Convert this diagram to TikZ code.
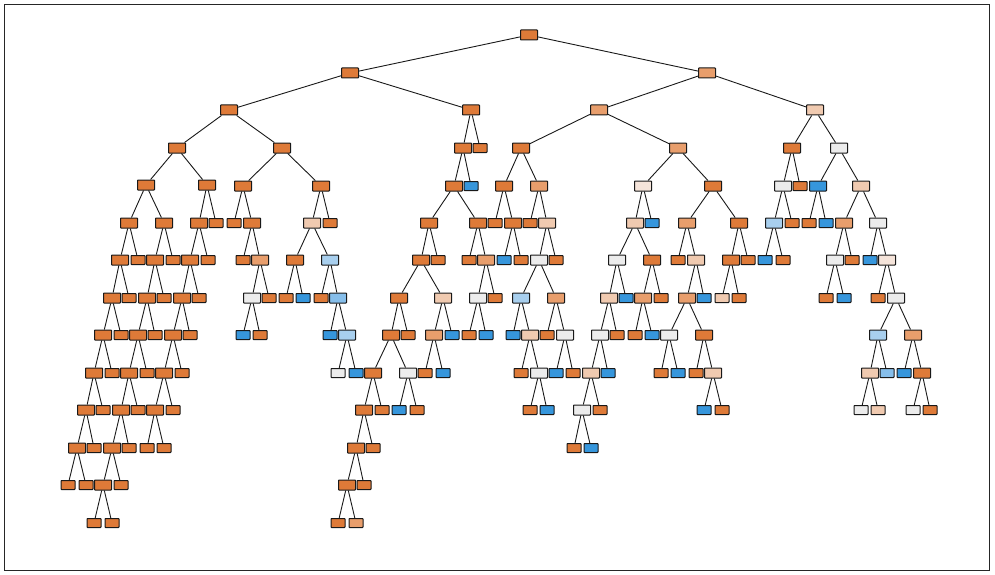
\documentclass[tikz,border=0pt]{standalone}
\usepackage{tikz}

\definecolor{cO}{RGB}{222,122,56}
\definecolor{co}{RGB}{232,158,108}
\definecolor{ct}{RGB}{240,202,176}
\definecolor{cL}{RGB}{245,228,218}
\definecolor{cW}{RGB}{236,236,236}
\definecolor{cb}{RGB}{168,207,238}
\definecolor{cm}{RGB}{134,190,234}
\definecolor{cB}{RGB}{54,150,220}

\begin{document}
\begin{tikzpicture}[
    x=1pt, y=-1pt,
    split/.style={draw=black!90, line width=1pt, rounded corners=0.6pt, minimum width=17pt, minimum height=10pt, inner sep=0pt},
    leaf/.style={split, minimum width=14pt, minimum height=9pt},
    link/.style={line width=0.9pt, black!90}
]
\useasboundingbox (0,0) rectangle (995,575);
\draw[line width=1pt, black!85] (4.5,4.5) rectangle (989.5,570.5);

% split nodes
\foreach \i/\x/\y/\c in {
    0/529/35/cO, 1/350/73/cO, 2/229/110/cO, 3/177/148/cO, 4/146/185/cO, 5/129/223/cO,
    6/120/260/cO, 7/112/298/cO, 8/103/335/cO, 9/94/373/cO, 10/86/410/cO, 11/77/448/cO,
    20/164/223/cO, 21/155/260/cO, 22/147/298/cO, 23/138/335/cO, 24/129/373/cO,
    25/121/410/cO, 26/112/448/cO, 27/103/485/cO,
    37/207/185/cO, 38/199/223/cO, 39/190/260/cO, 40/182/298/cO, 41/173/335/cO,
    42/164/373/cO, 43/155/410/cO,
    52/282/148/cO, 53/243/186/cO, 55/252/223/cO, 57/260/260/co, 58/252/298/cW,
    62/321/186/cO, 63/312/223/ct, 64/295/260/cO, 67/330/260/cb, 69/338/298/cm, 71/347/335/cb,
    75/471/110/cO, 76/463/148/cO, 77/454/186/cO, 78/429/223/cO, 79/421/260/cO,
    80/399/298/cO, 81/391/335/cO, 82/373/373/cO, 83/364/410/cO, 84/356/448/cO, 85/347/485/cO,
    91/408/373/cW, 95/443/298/ct, 96/434/335/co,
    101/478/223/cO, 103/486/260/co, 104/478/298/cW,
    110/707/73/co, 111/599/110/co, 112/521/148/cO, 113/504/186/cO, 115/513/223/cO,
    118/539/186/co, 120/547/223/ct, 121/539/260/cW, 122/521/298/cb, 124/530/335/ct,
    126/539/373/cW, 129/556/298/co, 131/565/335/cW,
    135/678/148/co, 136/643/186/cL, 137/635/223/ct, 138/617/260/cW, 139/609/298/ct,
    140/600/335/cW, 141/591/373/ct, 142/582/410/cW,
    149/652/260/cO, 150/643/298/co,
    155/713/186/cO, 156/687/223/co, 158/696/260/ct, 159/687/298/co, 160/669/335/cW,
    163/704/335/cO, 165/713/373/ct,
    169/739/223/cO, 170/731/260/cO,
    174/815/110/ct, 175/792/148/cO, 176/783/186/cW, 177/774/223/cb,
    182/839/148/cW, 183/818/186/cB, 186/861/186/ct, 187/844/223/co, 188/835/260/cW,
    192/878/223/cW, 194/887/260/cL, 196/896/298/cW, 197/878/335/cb, 198/870/373/ct,
    202/913/335/co, 204/922/373/cO}
    \node[split, fill=\c] (n\i) at (\x,\y) {};

% leaves
\foreach \i/\x/\y/\c in {
    12/68/485/cO, 13/86/485/cO, 14/94/448/cO, 15/103/410/cO, 16/112/373/cO,
    17/121/335/cO, 18/129/298/cO, 19/138/260/cO,
    28/94/523/cO, 29/112/523/cO, 30/121/485/cO, 31/129/448/cO, 32/138/410/cO,
    33/147/373/cO, 34/155/335/cO, 35/164/298/cO, 36/173/260/cO,
    44/147/448/cO, 45/164/448/cO, 46/173/410/cO, 47/182/373/cO, 48/190/335/cO,
    49/199/298/cO, 50/208/260/cO, 51/216/223/cO,
    54/234/223/cO, 56/243/260/cO, 59/243/335/cB, 60/260/335/cO, 61/269/298/cO,
    65/286/298/cO, 66/303/298/cB, 68/321/298/cO, 70/330/335/cB, 72/338/373/cW,
    73/356/373/cB, 74/330/223/cO,
    86/338/523/cO, 87/356/523/co, 88/364/485/cO, 89/373/448/cO, 90/382/410/cO,
    92/399/410/cB, 93/417/410/cO, 94/408/335/cO,
    97/425/373/cO, 98/443/373/cB, 99/452/335/cB, 100/438/260/cO, 102/469/260/cO,
    105/469/335/cO, 106/486/335/cB, 107/495/298/cO, 108/471/186/cB, 109/480/148/cO,
    114/495/223/cO, 116/504/260/cB, 117/521/260/cO, 119/530/223/cO, 123/513/335/cB,
    125/521/373/cO, 127/530/410/cO, 128/547/410/cB, 130/547/335/cO, 132/556/373/cB,
    133/573/373/cO, 134/556/260/cO,
    143/574/448/cO, 144/591/448/cB, 145/600/410/cO, 146/608/373/cB, 147/617/335/cO,
    148/626/298/cB, 151/635/335/cO, 152/652/335/cB, 153/661/298/cO, 154/652/223/cB,
    157/678/260/cO, 161/661/373/cO, 162/678/373/cB, 164/696/373/cO, 166/704/410/cB,
    167/722/410/cO, 168/704/298/cB, 171/722/298/ct, 172/739/298/cO, 173/748/260/cO,
    178/765/260/cB, 179/783/260/cO, 180/792/223/cO, 181/800/186/cO, 184/809/223/cO,
    185/826/223/cB, 189/826/298/cO, 190/844/298/cB, 191/852/260/cO, 193/870/260/cB,
    195/878/298/cO, 199/861/410/cW, 200/878/410/ct, 201/887/373/cm, 203/904/373/cB,
    205/913/410/cW, 206/930/410/cO}
    \node[leaf, fill=\c] (n\i) at (\x,\y) {};

% branches
\foreach \p/\q in {
    0/1, 0/110, 1/2, 1/75, 2/3, 2/52, 3/4, 3/37, 4/5, 4/20, 5/6, 5/19, 6/7, 6/18,
    7/8, 7/17, 8/9, 8/16, 9/10, 9/15, 10/11, 10/14, 11/12, 11/13,
    20/21, 20/36, 21/22, 21/35, 22/23, 22/34, 23/24, 23/33, 24/25, 24/32,
    25/26, 25/31, 26/27, 26/30, 27/28, 27/29,
    37/38, 37/51, 38/39, 38/50, 39/40, 39/49, 40/41, 40/48, 41/42, 41/47,
    42/43, 42/46, 43/44, 43/45,
    52/53, 52/62, 53/54, 53/55, 55/56, 55/57, 57/58, 57/61, 58/59, 58/60,
    62/63, 62/74, 63/64, 63/67, 64/65, 64/66, 67/68, 67/69, 69/70, 69/71, 71/72, 71/73,
    75/76, 75/109, 76/77, 76/108, 77/78, 77/101, 78/79, 78/100, 79/80, 79/95,
    80/81, 80/94, 81/82, 81/91, 82/83, 82/90, 83/84, 83/89, 84/85, 84/88, 85/86, 85/87,
    91/92, 91/93, 95/96, 95/99, 96/97, 96/98,
    101/102, 101/103, 103/104, 103/107, 104/105, 104/106,
    110/111, 110/174, 111/112, 111/135, 112/113, 112/118, 113/114, 113/115,
    115/116, 115/117, 118/119, 118/120, 120/121, 120/134, 121/122, 121/129,
    122/123, 122/124, 124/125, 124/126, 126/127, 126/128, 129/130, 129/131,
    131/132, 131/133,
    135/136, 135/155, 136/137, 136/154, 137/138, 137/149, 138/139, 138/148,
    139/140, 139/147, 140/141, 140/146, 141/142, 141/145, 142/143, 142/144,
    149/150, 149/153, 150/151, 150/152,
    155/156, 155/169, 156/157, 156/158, 158/159, 158/168, 159/160, 159/163,
    160/161, 160/162, 163/164, 163/165, 165/166, 165/167,
    169/170, 169/173, 170/171, 170/172,
    174/175, 174/182, 175/176, 175/181, 176/177, 176/180, 177/178, 177/179,
    182/183, 182/186, 183/184, 183/185, 186/187, 186/192, 187/188, 187/191,
    188/189, 188/190, 192/193, 192/194, 194/195, 194/196, 196/197, 196/202,
    197/198, 197/201, 198/199, 198/200, 202/203, 202/204, 204/205, 204/206}
    \draw[link] (n\p) -- (n\q);
\end{tikzpicture}
\end{document}
